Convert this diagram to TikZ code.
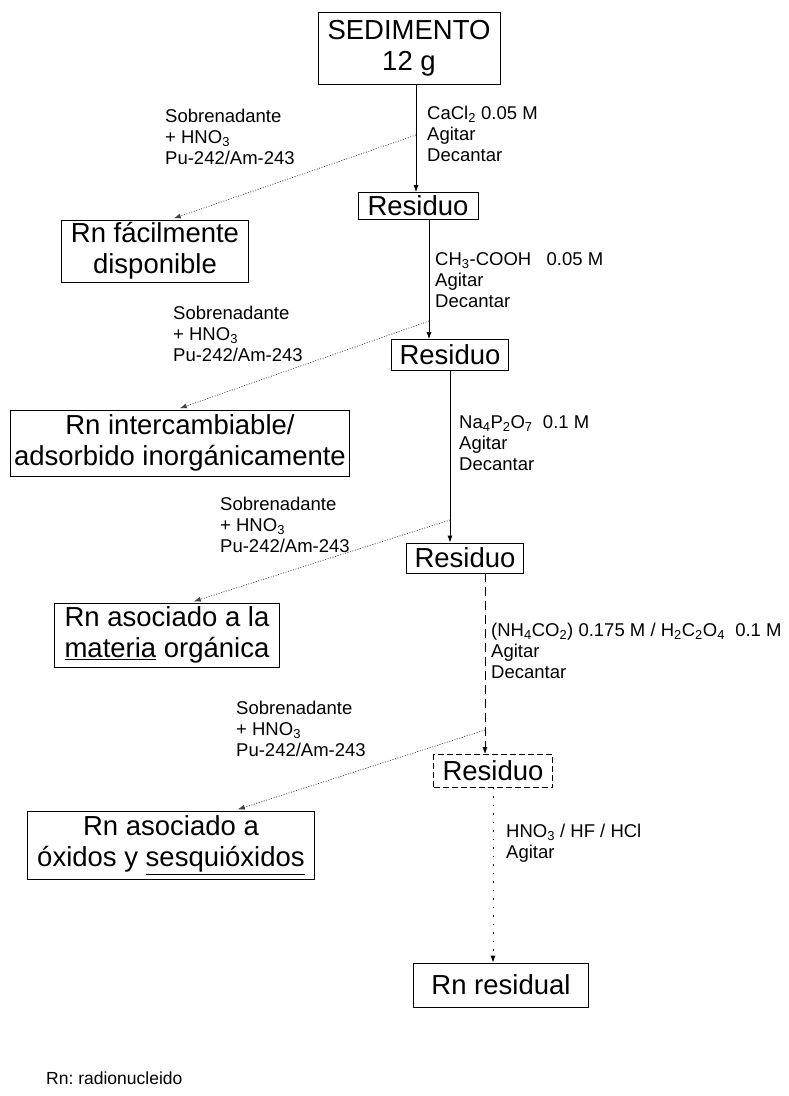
\documentclass[tikz,border=0pt]{standalone}
\usepackage{fontspec}
\setmainfont{Liberation Sans}
\usetikzlibrary{arrows.meta}
\frenchspacing

\begin{document}
\begin{tikzpicture}[x=1pt, y=-1pt,
    box/.style={rectangle, draw, line width=0.8pt, inner sep=0pt, align=center, font=\fontsize{27.5}{31}\selectfont},
    note/.style={anchor=west, inner sep=0pt, align=left, font=\fontsize{18.5}{21}\selectfont},
    flow/.style={-{Latex[length=7pt,width=5pt]}, line width=0.8pt},
    sobre/.style={-{Latex[length=7pt,width=5pt]}, line width=0.7pt, black!75, dash pattern=on 1pt off 1.6pt, shorten >=4pt}
]
\useasboundingbox (0,0) rectangle (789,1096);
% main column
\node[box, minimum width=182, minimum height=72] (sed) at (409,48) {SEDIMENTO\\12 g};
\node[box, minimum width=120, minimum height=27] (res1) at (418,206) {Residuo};
\node[box, minimum width=117, minimum height=31] (res2) at (450,355) {Residuo};
\node[box, minimum width=117, minimum height=30] (res3) at (465,558) {Residuo};
\node[box, minimum width=119, minimum height=33, dash pattern=on 6pt off 3pt] (res4) at (493,771) {Residuo};
\node[box, minimum width=175, minimum height=44] (resid) at (501,985) {Rn residual};
% fractions
\node[box, minimum width=187, minimum height=62] (fac) at (155,251) {Rn fácilmente\\disponible};
\node[box, minimum width=339, minimum height=66] (inter) at (180,443) {Rn intercambiable/\\adsorbido inorgánicamente};
\node[box, minimum width=225, minimum height=64] (org) at (167,635) {Rn asociado a la\\\underline{materia} orgánica};
\node[box, minimum width=287, minimum height=68] (oxi) at (171,845) {Rn asociado a\\óxidos y \underline{sesquióxidos}};
% reagents
\node[note] (cacl) at (427,134) {CaCl\textsubscript{2} 0.05 M\\Agitar\\Decantar};
\node[note] (acet) at (435,280) {CH\textsubscript{3}-COOH \ \ 0.05 M\\Agitar\\Decantar};
\node[note] (pirof) at (459,443) {Na\textsubscript{4}P\textsubscript{2}O\textsubscript{7} \ 0.1 M\\Agitar\\Decantar};
\node[note] (oxal) at (491,651) {(NH\textsubscript{4}CO\textsubscript{2}) 0.175 M / H\textsubscript{2}C\textsubscript{2}O\textsubscript{4} \ 0.1 M\\Agitar\\Decantar};
\node[note] (acid) at (506,843) {HNO\textsubscript{3} / HF / HCl\\Agitar};
\node[note] (sob1) at (165,137) {Sobrenadante\\+ HNO\textsubscript{3}\\Pu-242/Am-243};
\node[note] (sob2) at (173,334) {Sobrenadante\\+ HNO\textsubscript{3}\\Pu-242/Am-243};
\node[note] (sob3) at (220,525) {Sobrenadante\\+ HNO\textsubscript{3}\\Pu-242/Am-243};
\node[note] (sob4) at (236,729) {Sobrenadante\\+ HNO\textsubscript{3}\\Pu-242/Am-243};
\node[note, font=\fontsize{17.5}{20}\selectfont] (rn) at (46,1078) {Rn: radionucleido};
% branch points
\coordinate (s1) at (416,135);
\coordinate (s2) at (429,321);
\coordinate (s3) at (450,520);
\coordinate (s4) at (485,730);
\coordinate (s5) at (493,0);
% steps
\draw[flow] (sed.south -| s1) -- (res1.north -| s1);
\draw[flow] (res1.south -| s2) -- (res2.north -| s2);
\draw[flow] (res2.south -| s3) -- (res3.north -| s3);
\draw[flow, dash pattern=on 9pt off 5pt] (res3.south -| s4) -- (res4.north -| s4);
\draw[flow, dash pattern=on 1.5pt off 7pt] (res4.south -| s5) -- (resid.north -| s5);
% supernatants
\draw[sobre] (s1) -- ([xshift=15pt]fac.north);
\draw[sobre] (s2) -- ([xshift=-4pt]inter.north);
\draw[sobre] (s3) -- ([xshift=23pt]org.north);
\draw[sobre] (s4) -- ([xshift=63pt]oxi.north);
\end{tikzpicture}
\end{document}
